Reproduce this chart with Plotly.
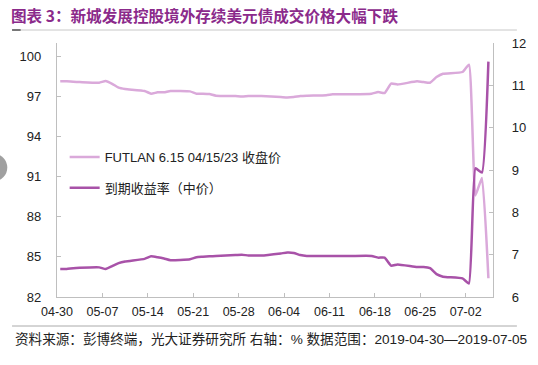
import plotly.graph_objects as go

dates = ["04-30", "05-01", "05-02", "05-03",
         "05-06", "05-07", "05-08", "05-09", "05-10",
         "05-13", "05-14", "05-15", "05-16", "05-17",
         "05-20", "05-21", "05-22", "05-23", "05-24",
         "05-27", "05-28", "05-29", "05-30", "05-31",
         "06-03", "06-04", "06-05", "06-06", "06-07",
         "06-10", "06-11", "06-12", "06-13", "06-14",
         "06-17", "06-18", "06-19", "06-20", "06-21",
         "06-24", "06-25", "06-26", "06-27", "06-28",
         "07-01", "07-02", "07-03", "07-04", "07-05"]

price = [98.13, 98.13, 98.10, 98.08,
         98.03, 98.16, 97.95, 97.66, 97.56,
         97.41, 97.21, 97.31, 97.31, 97.41,
         97.38, 97.21, 97.21, 97.18, 97.06,
         97.03, 97.00, 97.03, 97.03, 97.03,
         96.96, 96.93, 96.96, 97.03, 97.06,
         97.10, 97.16, 97.16, 97.16, 97.16,
         97.21, 97.33, 97.26, 97.96, 97.90,
         98.13, 98.08, 98.03, 98.45, 98.70,
         98.83, 99.38, 89.60, 90.90, 83.40]

yld = [6.66, 6.66, 6.68, 6.69,
       6.70, 6.66, 6.73, 6.80, 6.84,
       6.90, 6.96, 6.94, 6.91, 6.87,
       6.89, 6.94, 6.95, 6.96, 6.97,
       6.99, 7.00, 6.98, 6.98, 6.98,
       7.03, 7.05, 7.04, 6.99, 6.97,
       6.97, 6.97, 6.97, 6.97, 6.97,
       6.97, 6.93, 6.93, 6.74, 6.77,
       6.71, 6.71, 6.68, 6.54, 6.48,
       6.44, 6.32, 9.04, 8.94, 11.56]

left_ticks = [82, 85, 88, 91, 94, 97, 100]
right_ticks = [6, 7, 8, 9, 10, 11, 12]

name_price = "FUTLAN 6.15 04/15/23 收盘价"
name_yld = "到期收益率（中价）"
title_text = "图表 3：新城发展控股境外存续美元债成交价格大幅下跌"
footer_text = "资料来源：彭博终端，光大证券研究所 右轴：% 数据范围：2019-04-30—2019-07-05"

xs = ["2019-" + d + " 12:00" for d in dates]

FONT = "Liberation Sans, Noto Sans CJK SC, sans-serif"
C_PRICE = "#DAA9DA"
C_YLD = "#A852A8"
AXC = "#BFBFBF"

fig = go.Figure()
fig.add_trace(go.Scatter(x=xs, y=price, name=name_price, mode="lines",
                         line=dict(color=C_PRICE, width=2.5, shape="spline", smoothing=0.4),
                         legendgroup="a", yaxis="y"))
fig.add_trace(go.Scatter(x=xs, y=yld, name=name_yld, mode="lines",
                         line=dict(color=C_YLD, width=2.5, shape="spline", smoothing=0.4),
                         legendgroup="b", yaxis="y2"))

L, R, T, B = 57, 25, 43, 68
W, H = 538, 365
pw = W - L - R
ph = H - T - B

def px_x(p):
    return (p - L) / pw

def px_y(p):
    return (H - B - p) / ph

fig.update_layout(
    width=W, height=H,
    margin=dict(l=L, r=R, t=T, b=B, pad=0),
    paper_bgcolor="white", plot_bgcolor="white",
    font=dict(family=FONT, size=13, color="#222222"),
    title=dict(text="<b>" + title_text + "</b>", x=11 / W, xanchor="left",
               y=1 - 17 / H, yanchor="middle", xref="container", yref="container",
               font=dict(family="Noto Sans CJK SC, Liberation Sans, sans-serif", size=15.6, color="#8B2A8B")),
    xaxis=dict(type="date", range=["2019-04-30", "2019-07-06 05:00"],
               tick0="2019-04-30", dtick=7 * 24 * 3600 * 1000, tickformat="%m-%d",
               showline=True, linecolor=AXC, linewidth=1.3, ticks="inside", ticklen=4,
               tickcolor=AXC, showgrid=False, zeroline=False,
               tickfont=dict(size=12.5, color="#222222"), ticklabelstandoff=3),
    yaxis=dict(range=[82, 101], tickvals=left_ticks, showline=True, linecolor=AXC,
               linewidth=1.3, ticks="inside", ticklen=4, tickcolor=AXC, showgrid=False,
               zeroline=False, tickfont=dict(size=13, color="#222222"), ticklabelstandoff=12),
    yaxis2=dict(range=[6, 12], tickvals=right_ticks, overlaying="y", side="right",
                showline=True, linecolor=AXC, linewidth=1.3, ticks="inside", ticklen=4,
                tickcolor=AXC, showgrid=False, zeroline=False,
                tickfont=dict(size=13, color="#222222"), ticklabelstandoff=15),
    legend=dict(x=px_x(65), y=px_y(142), xanchor="left", yanchor="top",
                bgcolor="rgba(0,0,0,0)", font=dict(size=13, family=FONT, color="#222222"),
                traceorder="grouped", tracegroupgap=11, itemwidth=30),
    showlegend=True,
)

fig.add_annotation(text=footer_text, xref="paper", yref="paper",
                   x=px_x(11), y=px_y(339), xanchor="left", yanchor="middle",
                   showarrow=False, font=dict(size=13.6, family=FONT, color="#222222"))

fig.add_shape(type="line", xref="paper", yref="paper",
              x0=px_x(10), x1=px_x(538), y0=px_y(30), y1=px_y(30),
              line=dict(color="#C8C8C8", width=1))
fig.add_shape(type="line", xref="paper", yref="paper",
              x0=px_x(10), x1=px_x(19), y0=px_y(30), y1=px_y(30),
              line=dict(color="#777777", width=2))
fig.add_shape(type="line", xref="paper", yref="paper",
              x0=px_x(10), x1=px_x(538), y0=px_y(326), y1=px_y(326),
              line=dict(color="#AAAAAA", width=1))
fig.add_shape(type="circle", xref="paper", yref="paper",
              x0=px_x(-22), x1=px_x(5), y0=px_y(181), y1=px_y(154),
              fillcolor="#A0A0A0", line=dict(width=0))

fig.write_html("out.html")
